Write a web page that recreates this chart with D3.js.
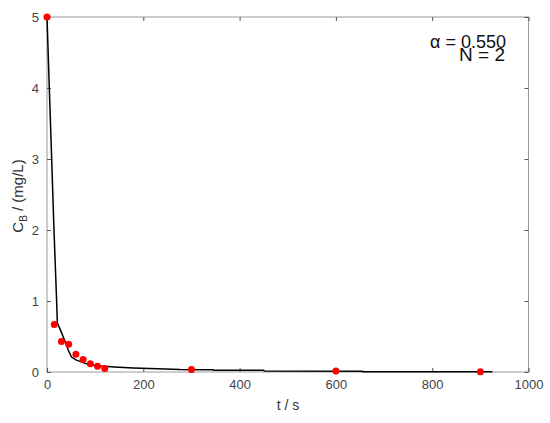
<!DOCTYPE html>
<html><head><meta charset="utf-8">
<script src="https://cdn.jsdelivr.net/npm/d3@7"></script>
<style>body{margin:0;background:#fff}svg{display:block}</style>
</head><body>
<svg id="c" width="550" height="423"></svg>
<script>
// measured data (red dots)
const dataT = [0, 15, 30, 45, 60, 75, 90, 105, 120, 300, 600, 900];
const dataC = [5, 0.67, 0.43, 0.39, 0.25, 0.175, 0.115, 0.08, 0.05, 0.035, 0.015, 0.005];
// model curve (black line)
const modelT = [0, 4.8, 9.7, 14.5, 20, 21.5, 28, 34, 40, 44, 51, 60, 68.5, 80, 95, 110, 140, 179, 230, 276, 345, 346, 450, 451, 655, 656, 925];
const modelC = [5, 4, 3, 2, 1, 0.69, 0.59, 0.49, 0.39, 0.31, 0.21, 0.17, 0.15, 0.12, 0.1, 0.085, 0.07, 0.056, 0.045, 0.035, 0.033, 0.025, 0.023, 0.015, 0.012, 0.005, 0.004];
const xTicks = [0, 200, 400, 600, 800, 1000];
const yTicks = [0, 1, 2, 3, 4, 5];
const annot1 = "α = 0.550";
const annot2 = "N = 2";

const svg = d3.select("#c");
const L = 47, R = 528.5, T = 17, B = 372;
const x = d3.scaleLinear().domain([0, 1000]).range([L, R]);
const y = d3.scaleLinear().domain([0, 5]).range([B, T]);
const font = "'Liberation Sans', Arial, sans-serif";
const frameCol = "#9a9a9a";

// frame
svg.append("rect").attr("x", L).attr("y", T).attr("width", R - L).attr("height", B - T)
  .attr("fill", "none").attr("stroke", frameCol).attr("stroke-width", 1);

// axes
const ax = svg.append("g").attr("transform", `translate(0,${B})`)
  .call(d3.axisBottom(x).tickValues(xTicks).tickSize(-4).tickPadding(8).tickFormat(d3.format("d")));
const axT = svg.append("g").attr("transform", `translate(0,${T})`)
  .call(d3.axisTop(x).tickValues(xTicks).tickSize(-4).tickFormat(""));
const ay = svg.append("g").attr("transform", `translate(${L},0)`)
  .call(d3.axisLeft(y).tickValues(yTicks).tickSize(-4).tickPadding(8).tickFormat(d3.format("d")));
const ayR = svg.append("g").attr("transform", `translate(${R},0)`)
  .call(d3.axisRight(y).tickValues(yTicks).tickSize(-4).tickFormat(""));
[ax, axT, ay, ayR].forEach(g => {
  g.select(".domain").remove();
  g.selectAll(".tick line").attr("stroke", "#555");
  g.selectAll("text").attr("font-family", font).attr("font-size", 13).attr("fill", "#444");
});

// model line
const line = d3.line().x((d, i) => x(modelT[i])).y((d, i) => y(modelC[i]));
svg.append("path").datum(modelT).attr("d", line).attr("fill", "none")
  .attr("stroke", "#000").attr("stroke-width", 1.5);

// data dots
svg.selectAll("circle.pt").data(dataT).enter().append("circle").attr("class", "pt")
  .attr("cx", (d) => x(d)).attr("cy", (d, i) => y(dataC[i])).attr("r", 3.5).attr("fill", "#ff0000");

// axis labels
svg.append("text").attr("x", 288).attr("y", 410).attr("text-anchor", "middle")
  .attr("font-family", font).attr("font-size", 14).attr("fill", "#333").text("t / s");
const yl = svg.append("text").attr("transform", "translate(23,196) rotate(-90)")
  .attr("text-anchor", "middle").attr("font-family", font).attr("font-size", 15).attr("fill", "#333");
yl.append("tspan").text("C");
yl.append("tspan").attr("font-size", 10).attr("dy", 4).text("B");
yl.append("tspan").attr("dy", -4).text(" / (mg/L)");

// annotations
svg.append("text").attr("x", 506).attr("y", 48).attr("text-anchor", "end")
  .attr("font-family", font).attr("font-size", 18).attr("fill", "#111").text(annot1);
svg.append("text").attr("x", 505).attr("y", 61).attr("text-anchor", "end")
  .attr("font-family", font).attr("font-size", 19).attr("fill", "#111").text(annot2);
</script>
</body></html>
